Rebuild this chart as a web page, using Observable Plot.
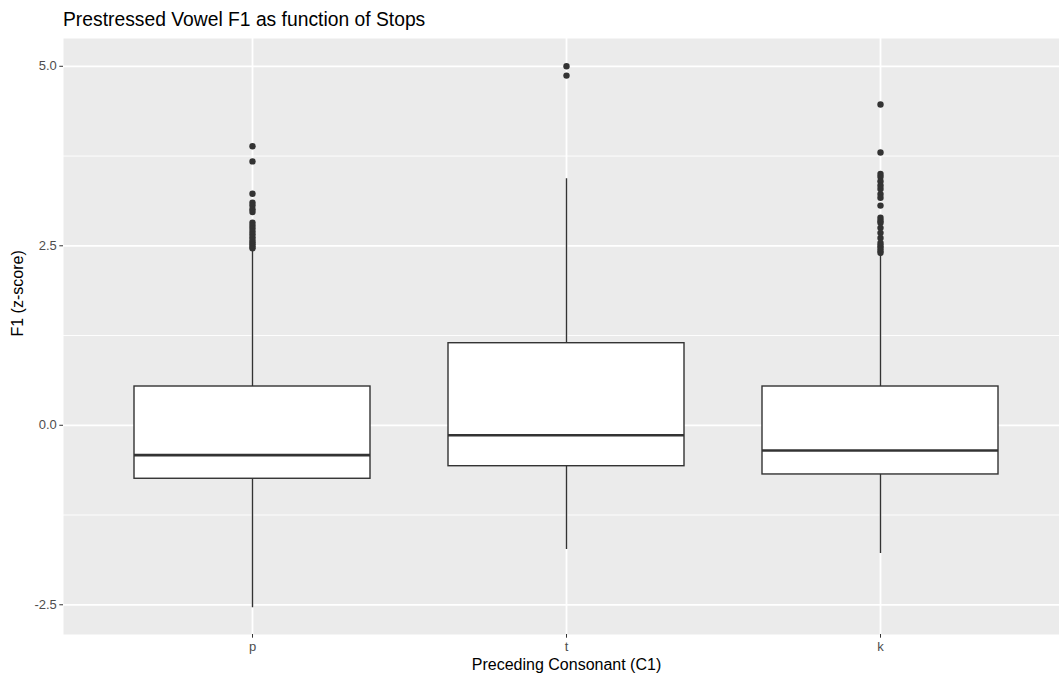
<!DOCTYPE html>
<html>
<head>
<meta charset="utf-8">
<script src="https://cdn.jsdelivr.net/npm/d3@7"></script>
<script src="https://cdn.jsdelivr.net/npm/@observablehq/plot@0.6"></script>
<style>
  html, body { margin: 0; padding: 0; background: #ffffff; overflow: hidden; }
  #title { position: relative; height: 38px; width: 1059px; font-family: "Liberation Sans", Arial, sans-serif; }
  #title span { position: absolute; left: 63px; top: 10px; font-size: 19.3px; line-height: 19px; color: #000; white-space: nowrap; }
  #chart svg { display: block; }
</style>
</head>
<body>
<div id="title"><span>Prestressed Vowel F1 as function of Stops</span></div>
<div id="chart"></div>
<script>
// ---- data ----
const categories = ["p", "t", "k"];
const q1 = [-0.745, -0.570, -0.685];
const median = [-0.416, -0.138, -0.351];
const q3 = [0.540, 1.143, 0.540];
const whiskerLow = [-2.542, -1.730, -1.786];
const whiskerHigh = [2.434, 3.433, 2.379];
const outliersP = [3.887, 3.675, 3.224, 3.10, 3.06, 3.01, 2.97, 2.82, 2.78, 2.74, 2.70, 2.66, 2.62, 2.58, 2.55, 2.52, 2.49, 2.465];
const outliersT = [5.00, 4.87];
const outliersK = [4.467, 3.80, 3.50, 3.46, 3.40, 3.34, 3.29, 3.22, 3.17, 3.06, 2.89, 2.85, 2.82, 2.75, 2.68, 2.61, 2.54, 2.50, 2.47, 2.43, 2.40];
const yTicks = [-2.5, 0, 2.5, 5];
const yMinorTicks = [-1.25, 1.25, 3.75];
const xTitle = "Preceding Consonant (C1)";
const yTitle = "F1 (z-score)";

// ---- tables built from the arrays ----
const stats = categories.map((c, i) => ({
  cat: c, q1: q1[i], med: median[i], q3: q3[i], lo: whiskerLow[i], hi: whiskerHigh[i]
}));
const outlierLists = [outliersP, outliersT, outliersK];
const outliers = categories.flatMap((c, i) => outlierLists[i].map(v => ({cat: c, v})));

const ink = "#333333";
const chart = Plot.plot({
  width: 1059,
  height: 636,
  marginLeft: 63,
  marginRight: 0,
  marginTop: 0,
  marginBottom: 40,
  style: {fontFamily: "Liberation Sans, Arial, sans-serif", background: "#ffffff", overflow: "visible"},
  x: {type: "band", domain: categories, range: [94.6, 1037.4], paddingInner: 0.25, paddingOuter: 0.125, axis: null},
  y: {domain: [-2.914, 5.387], axis: null},
  marks: [
    Plot.frame({fill: "#EBEBEB", stroke: null}),
    Plot.ruleY(yMinorTicks, {stroke: "#ffffff", strokeWidth: 0.9}),
    Plot.ruleY(yTicks, {stroke: "#ffffff", strokeWidth: 1.8}),
    Plot.ruleX(categories, {x: d => d, stroke: "#ffffff", strokeWidth: 1.8}),
    Plot.ruleX(stats, {x: "cat", y1: "lo", y2: "hi", stroke: ink, strokeWidth: 1.4}),
    Plot.barY(stats, {x: "cat", y1: "q1", y2: "q3", fill: "#ffffff", stroke: ink, strokeWidth: 1.4}),
    Plot.tickY(stats, {x: "cat", y: "med", stroke: ink, strokeWidth: 2.6}),
    Plot.dot(outliers, {x: "cat", y: "v", r: 3.2, fill: ink, stroke: null}),
    Plot.axisY(yTicks, {tickFormat: d => d.toFixed(1), tickSize: 3.7, tickPadding: 3, fontSize: 13, fill: "#4D4D4D", stroke: ink, label: null}),
    Plot.axisX({tickSize: 3.7, tickPadding: 4, fontSize: 13, fill: "#4D4D4D", stroke: ink, label: null}),
    Plot.text([xTitle], {frameAnchor: "bottom", lineAnchor: "bottom", dy: 35, dx: 5, fontSize: 16, fill: "#000"}),
    Plot.text([yTitle], {frameAnchor: "left", rotate: -90, dx: -46, fontSize: 16, fill: "#000"})
  ]
});
document.getElementById("chart").appendChild(chart);
</script>
</body>
</html>
